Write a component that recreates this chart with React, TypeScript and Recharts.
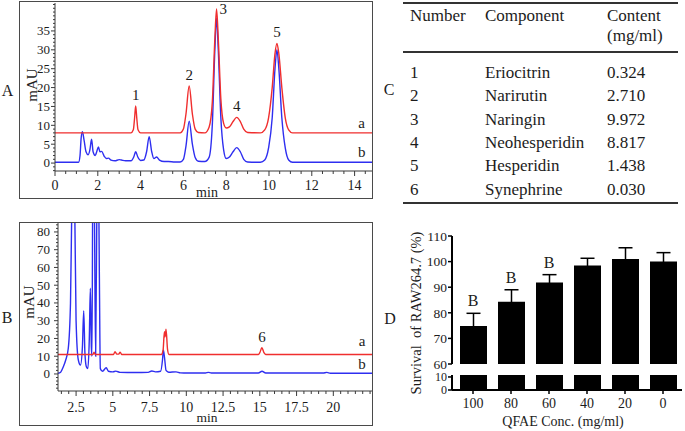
import React from "react";
import {
  LineChart,
  Line,
  XAxis,
  YAxis,
  ReferenceDot,
  ComposedChart,
  Bar,
  ErrorBar,
  LabelList,
} from "recharts";

const FONT = "'Liberation Serif', 'Times New Roman', serif";
const RED = "#f02e2e";
const BLUE = "#2e2ef0";
const INK = "#1c1c1c";
const AXIS = "#3a3a3a";

// ---- Panel A: HPLC, standards (a) vs QFAE (b)
const stdA: [number, number][] = [
  [0, 8], [3.55, 8], [3.66, 8.8], [3.72, 12], [3.77, 15.1], [3.82, 12], [3.88, 8.8], [4.0, 8],
  [5.85, 8], [6.0, 9], [6.12, 13], [6.27, 20.4], [6.42, 13], [6.55, 9], [6.7, 8.1],
  [7.0, 8], [7.2, 9.5], [7.35, 16], [7.47, 33], [7.55, 40.8], [7.63, 33], [7.75, 17], [7.88, 10.5],
  [8.0, 9.3], [8.15, 9.6], [8.32, 11], [8.49, 12.1], [8.66, 11], [8.82, 9], [9.0, 8.1],
  [9.6, 8], [9.8, 8.8], [9.98, 12], [10.15, 20], [10.28, 29], [10.37, 31.7], [10.46, 29],
  [10.6, 20], [10.76, 12], [10.92, 8.8], [11.1, 8], [14.86, 8],
];
const qfaeA: [number, number][] = [
  [0, 0.2], [1.1, 0.2], [1.17, 2], [1.22, 6.5], [1.28, 8.3], [1.36, 6], [1.45, 3], [1.55, 2.2],
  [1.63, 3.5], [1.71, 6.3], [1.78, 3], [1.88, 2], [1.96, 3.2], [2.03, 4.3], [2.1, 3], [2.18, 3.1],
  [2.3, 1.8], [2.4, 1.2], [2.5, 1.3], [2.62, 0.8], [2.8, 0.6], [3.0, 0.9], [3.1, 0.8], [3.3, 0.6],
  [3.55, 0.6], [3.68, 1.6], [3.77, 3], [3.87, 1.6], [4.0, 0.7], [4.15, 0.8], [4.28, 3], [4.4, 7],
  [4.52, 3], [4.62, 1.2], [4.75, 1.6], [4.88, 0.8], [5.1, 0.4], [5.3, 0.4], [5.6, 0.3], [5.85, 0.3],
  [6.0, 1], [6.12, 4.5], [6.27, 11.1], [6.42, 5], [6.55, 1.5], [6.7, 0.5], [7.0, 0.4], [7.2, 1.5],
  [7.35, 10], [7.47, 30], [7.55, 38.4], [7.63, 30], [7.75, 12], [7.88, 3.5], [8.0, 1.2], [8.15, 1.6],
  [8.32, 3], [8.49, 4.1], [8.66, 3], [8.82, 1], [9.0, 0.3], [9.6, 0.2], [9.8, 0.8], [9.98, 4],
  [10.15, 12], [10.28, 25], [10.37, 30], [10.46, 25], [10.6, 12], [10.76, 4], [10.92, 0.8],
  [11.1, 0.2], [14.86, 0.2],
];
const peaksA = [
  { n: "1", t: 3.77, v: 15.1 },
  { n: "2", t: 6.27, v: 20.4 },
  { n: "3", t: 7.55, v: 40.8 },
  { n: "4", t: 8.49, v: 12.1 },
  { n: "5", t: 10.37, v: 31.7 },
];
const aXTicks = [0, 2, 4, 6, 8, 10, 12, 14];
const aYTicks = [0, 5, 10, 15, 20, 25, 30, 35];

// ---- Panel B: synephrine run
const stdB: [number, number][] = [
  [1.27, 11], [3.65, 11], [3.72, 12.2], [3.8, 11], [5.05, 11], [5.15, 12.5], [5.27, 11.2],
  [5.4, 11.2], [5.5, 12.3], [5.6, 11], [8.3, 11], [8.42, 13.5], [8.51, 23.8], [8.56, 21],
  [8.62, 25.2], [8.72, 14], [8.82, 11], [14.9, 11], [15.0, 12], [15.14, 14.8], [15.28, 12],
  [15.4, 11], [22.7, 11],
];
const qfaeB: [number, number][] = [
  [1.27, 0.4], [1.45, 1], [1.63, 4], [1.8, 8], [1.97, 14.5], [2.12, 40], [2.22, 100], [2.31, 130],
  [2.4, 100], [2.5, 30], [2.65, 8], [2.8, 5], [2.93, 15], [3.02, 35.5], [3.1, 12], [3.2, 4],
  [3.3, 3], [3.4, 20], [3.47, 48.3], [3.54, 15], [3.58, 10], [3.65, 130], [3.74, 100], [3.83, 10],
  [3.92, 100], [4.0, 130], [4.08, 60], [4.15, 3], [4.3, 1.5], [4.55, 3.5], [4.7, 1.5], [5.0, 1.2],
  [5.2, 1.6], [5.5, 0.9], [6.5, 0.8], [7.4, 0.9], [7.65, 1.7], [7.9, 1.2], [8.25, 1.5], [8.38, 8],
  [8.44, 13.5], [8.52, 9], [8.62, 2], [8.8, 1], [9.3, 1.2], [9.6, 0.6], [11.3, 0.5], [11.5, 0.9],
  [11.7, 0.5], [14.9, 0.5], [15.15, 1.5], [15.4, 0.5], [19.3, 0.5], [19.56, 0.9], [19.8, 0.4],
  [22.7, 0.4],
];
const peaksB = [{ n: "6", t: 15.14, v: 14.8 }];
const bXTicks = [2.5, 5, 7.5, 10, 12.5, 15, 17.5, 20];
const bYTicks = [0, 10, 20, 30, 40, 50, 60, 70, 80];

// ---- Panel C: table
const compNo = ["1", "2", "3", "4", "5", "6"];
const compName = ["Eriocitrin", "Narirutin", "Naringin", "Neohesperidin", "Hesperidin", "Synephrine"];
const compContent = ["0.324", "2.710", "9.972", "8.817", "1.438", "0.030"];

// ---- Panel D: cell survival
const conc = ["100", "80", "60", "40", "20", "0"];
const survival = [74.8, 84.3, 91.8, 98.5, 101, 100];
const survivalSd = [5, 4.7, 3.1, 2.8, 4.4, 3.5];
const sigLetter = ["B", "B", "B", "", "", ""];

const pts = (arr: [number, number][]) => arr.map(([t, v]) => ({ t, v }));

function steps(from: number, to: number, step: number) {
  const out: number[] = [];
  for (let i = Math.ceil(from / step - 1e-9); i * step <= to + 1e-9; i++) out.push(i * step);
  return out;
}

const isMajor = (majors: number[], v: number) => majors.some((m) => Math.abs(m - v) < 1e-6);

function xTick(majors: number[], gap: number) {
  return (props: any) => {
    const { x, y, payload } = props;
    const major = isMajor(majors, payload.value);
    return (
      <g>
        <line x1={x} x2={x} y1={y} y2={y + (major ? 5 : 3)} stroke={AXIS} strokeWidth={1} />
        {major && (
          <text x={x} y={y + gap} dy="0.34em" textAnchor="middle" fontSize={14} fill={INK}>
            {payload.value}
          </text>
        )}
      </g>
    );
  };
}

function yTick(majors: number[], gap: number) {
  return (props: any) => {
    const { x, y, payload } = props;
    const major = isMajor(majors, payload.value);
    return (
      <g>
        <line x1={x - (major ? 4 : 2)} x2={x} y1={y} y2={y} stroke={AXIS} strokeWidth={1} />
        {major && (
          <text x={x - gap} y={y} dy="0.34em" textAnchor="end" fontSize={13} fill={INK}>
            {payload.value}
          </text>
        )}
      </g>
    );
  };
}

function Txt({
  x,
  y,
  size,
  children,
  left,
  rotate,
}: {
  x: number;
  y: number;
  size: number;
  children: React.ReactNode;
  left?: boolean;
  rotate?: number;
}) {
  return (
    <div
      style={{
        position: "absolute",
        left: x,
        top: y,
        fontSize: size,
        lineHeight: 1,
        whiteSpace: "nowrap",
        color: INK,
        transform: `translate(${left ? "0" : "-50%"}, -50%)${rotate ? ` rotate(${rotate}deg)` : ""}`,
      }}
    >
      {children}
    </div>
  );
}

function Box({ x, y, w, h }: { x: number; y: number; w: number; h: number }) {
  return (
    <div
      style={{
        position: "absolute",
        left: x,
        top: y,
        width: w,
        height: h,
        border: "1.5px solid #4a4a4a",
        boxSizing: "border-box",
        pointerEvents: "none",
      }}
    />
  );
}

function Rule({ y }: { y: number }) {
  return (
    <div style={{ position: "absolute", left: 403, top: y - 0.75, width: 275, height: 1.5, background: "#333" }} />
  );
}

function ChromA() {
  const xDom: [number, number] = [0, 14.86];
  const yDom: [number, number] = [-2.1, 42.4];
  return (
    <LineChart width={354} height={199} margin={{ top: 3, right: 0, bottom: 0, left: 0 }}>
      <XAxis
        type="number"
        dataKey="t"
        domain={xDom}
        allowDataOverflow
        ticks={steps(xDom[0], xDom[1], 0.5)}
        interval={0}
        height={28}
        tickSize={0}
        tickMargin={0}
        tickLine={false}
        axisLine={{ stroke: AXIS }}
        tick={xTick(aXTicks, 14.5)}
      />
      <YAxis
        type="number"
        domain={yDom}
        allowDataOverflow
        ticks={steps(yDom[0], yDom[1], 1)}
        interval={0}
        width={36}
        tickSize={0}
        tickMargin={0}
        tickLine={false}
        axisLine={{ stroke: AXIS }}
        tick={yTick(aYTicks, 5)}
      />
      <Line data={pts(qfaeA)} dataKey="v" type="monotone" stroke={BLUE} strokeWidth={1.4} dot={false} isAnimationActive={false} />
      <Line data={pts(stdA)} dataKey="v" type="monotone" stroke={RED} strokeWidth={1.4} dot={false} isAnimationActive={false} />
      {peaksA.map((p) => (
        <ReferenceDot
          key={p.n}
          x={p.t}
          y={p.v}
          r={0}
          fill="none"
          stroke="none"
          label={{ value: p.n, position: p.n === "3" ? "right" : "top", offset: p.n === "3" ? 3 : 6, fontSize: 15, fill: INK }}
        />
      ))}
      <ReferenceDot x={14.33} y={8} r={0} fill="none" stroke="none" label={{ value: "a", position: "top", offset: 5, fontSize: 15, fill: INK }} />
      <ReferenceDot x={14.33} y={0.2} r={0} fill="none" stroke="none" label={{ value: "b", position: "top", offset: 5, fontSize: 15, fill: INK }} />
    </LineChart>
  );
}

function ChromB() {
  const xDom: [number, number] = [1.27, 22.7];
  const yDom: [number, number] = [-9.6, 85.6];
  return (
    <LineChart width={354} height={204} margin={{ top: 0, right: 0, bottom: 0, left: 0 }}>
      <XAxis
        type="number"
        dataKey="t"
        domain={xDom}
        allowDataOverflow
        ticks={steps(xDom[0], xDom[1], 0.5)}
        interval={0}
        height={35}
        tickSize={0}
        tickMargin={0}
        tickLine={false}
        axisLine={{ stroke: AXIS }}
        tick={xTick(bXTicks, 16)}
      />
      <YAxis
        type="number"
        domain={yDom}
        allowDataOverflow
        ticks={steps(yDom[0], yDom[1], 2)}
        interval={0}
        width={39}
        tickSize={0}
        tickMargin={0}
        tickLine={false}
        axisLine={{ stroke: AXIS }}
        tick={yTick(bYTicks, 8)}
      />
      <Line data={pts(qfaeB)} dataKey="v" type="monotone" stroke={BLUE} strokeWidth={1.4} dot={false} isAnimationActive={false} />
      <Line data={pts(stdB)} dataKey="v" type="monotone" stroke={RED} strokeWidth={1.4} dot={false} isAnimationActive={false} />
      {peaksB.map((p) => (
        <ReferenceDot
          key={p.n}
          x={p.t}
          y={p.v}
          r={0}
          fill="none"
          stroke="none"
          label={{ value: p.n, position: "top", offset: 6, fontSize: 15, fill: INK }}
        />
      ))}
      <ReferenceDot x={21.95} y={11} r={0} fill="none" stroke="none" label={{ value: "a", position: "top", offset: 8, fontSize: 15, fill: INK }} />
      <ReferenceDot x={21.95} y={0.4} r={0} fill="none" stroke="none" label={{ value: "b", position: "top", offset: 4, fontSize: 15, fill: INK }} />
    </LineChart>
  );
}

const dRows = conc.map((c, i) => ({
  c,
  mean: survival[i],
  sd: survivalSd[i],
  sig: sigLetter[i] || undefined,
}));

function SurvivalUpper() {
  return (
    <ComposedChart width={285} height={146} data={dRows} margin={{ top: 10, right: 3, bottom: 8, left: 0 }}>
      <XAxis dataKey="c" type="category" hide height={0} padding={{ left: 2, right: 0 }} />
      <YAxis
        domain={[60, 110]}
        ticks={[60, 70, 80, 90, 100, 110]}
        allowDataOverflow
        interval={0}
        width={52}
        axisLine={{ stroke: "#000", strokeWidth: 2 }}
        tickLine={{ stroke: "#000", strokeWidth: 1.5 }}
        tickSize={4}
        tickMargin={1}
        tick={{ fontSize: 13.5, fill: INK }}
      />
      <Bar dataKey="mean" fill="#000" barSize={27} isAnimationActive={false}>
        <ErrorBar dataKey="sd" width={7} stroke="#000" strokeWidth={1.5} direction="y" />
      </Bar>
      <Line
        dataKey={(d: any) => d.mean + d.sd}
        stroke="none"
        dot={false}
        activeDot={false}
        isAnimationActive={false}
      >
        <LabelList dataKey="sig" position="top" offset={7} fontSize={16} fill={INK} />
      </Line>
    </ComposedChart>
  );
}

function SurvivalLower() {
  return (
    <ComposedChart width={285} height={65} data={dRows} margin={{ top: 9, right: 3, bottom: 0, left: 0 }}>
      <XAxis
        dataKey="c"
        type="category"
        height={41}
        padding={{ left: 2, right: 0 }}
        axisLine={{ stroke: "#000", strokeWidth: 2 }}
        tickLine={{ stroke: "#000", strokeWidth: 1.5 }}
        tickSize={4}
        tickMargin={4}
        interval={0}
        tick={{ fontSize: 14, fill: INK }}
      />
      <YAxis
        domain={[0, 11.5]}
        ticks={[0, 10]}
        allowDataOverflow
        interval={0}
        width={52}
        axisLine={{ stroke: "#000", strokeWidth: 2 }}
        tickLine={{ stroke: "#000", strokeWidth: 1.5 }}
        tickSize={4}
        tickMargin={1}
        tick={{ fontSize: 12, fill: INK }}
      />
      <Bar dataKey="mean" fill="#000" barSize={27} isAnimationActive={false} />
    </ComposedChart>
  );
}

export default function App() {
  return (
    <div
      style={{
        position: "absolute",
        left: 0,
        top: 0,
        width: 685,
        height: 431,
        background: "#fff",
        overflow: "hidden",
        fontFamily: FONT,
        color: INK,
      }}
    >
      {/* A */}
      <div style={{ position: "absolute", left: 19, top: 0 }}>
        <ChromA />
      </div>
      <Box x={19} y={1} w={354} h={198} />
      <Txt x={7.5} y={91} size={16}>A</Txt>
      <Txt x={32} y={85} size={15} rotate={-90}>mAU</Txt>
      <Txt x={207} y={193} size={14}>min</Txt>

      {/* B */}
      <div style={{ position: "absolute", left: 19, top: 222 }}>
        <ChromB />
      </div>
      <Box x={19} y={222} w={354} h={204} />
      <Txt x={7} y={318} size={16}>B</Txt>
      <Txt x={29} y={302} size={15} rotate={-90}>mAU</Txt>
      <Txt x={207} y={418} size={13.5}>min</Txt>

      {/* C */}
      <Txt x={389} y={90} size={16}>C</Txt>
      <Rule y={3} />
      <Rule y={52} />
      <Rule y={203} />
      <Txt x={410} y={15} size={17} left>Number</Txt>
      <Txt x={485} y={15} size={17} left>Component</Txt>
      <Txt x={607} y={15} size={17} left>Content</Txt>
      <Txt x={607} y={35} size={17} left>(mg/ml)</Txt>
      {compNo.map((n, i) => (
        <React.Fragment key={n}>
          <Txt x={410} y={72 + i * 23.3} size={17} left>{n}</Txt>
          <Txt x={485} y={72 + i * 23.3} size={17} left>{compName[i]}</Txt>
          <Txt x={607} y={72 + i * 23.3} size={17} left>{compContent[i]}</Txt>
        </React.Fragment>
      ))}

      {/* D */}
      <div style={{ position: "absolute", left: 400, top: 226 }}>
        <SurvivalUpper />
      </div>
      <div style={{ position: "absolute", left: 400, top: 366 }}>
        <SurvivalLower />
      </div>
      <Txt x={390} y={319} size={16}>D</Txt>
      <Txt x={416} y={313} size={14.5} rotate={-90}>Survival&nbsp;&nbsp;of RAW264.7 (%)</Txt>
      <Txt x={563} y={422} size={14}>QFAE Conc. (mg/ml)</Txt>
    </div>
  );
}
